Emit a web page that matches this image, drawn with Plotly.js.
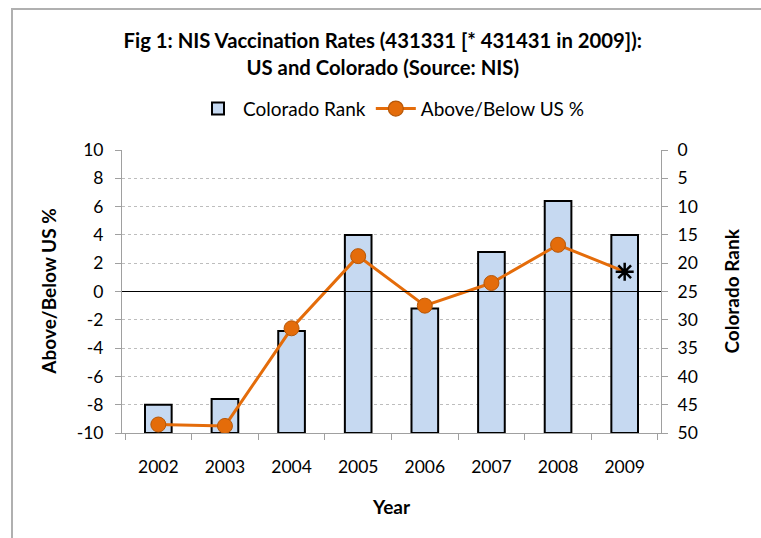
<!DOCTYPE html>
<html>
<head>
<meta charset="utf-8">
<script src="https://cdn.plot.ly/plotly-3.0.1.min.js"></script>
<style>
  html, body { margin: 0; padding: 0; background: #fff; }
  #wrap { position: relative; width: 761px; height: 538px; }
  #chart { width: 761px; height: 538px; }
  #frame { position: absolute; left: 11px; top: 8px; right: -4px; bottom: -4px;
           border-top: 2px solid #b0b0b0; border-left: 2px solid #b0b0b0; pointer-events: none; }
</style>
</head>
<body>
<div id="wrap">
  <div id="chart"></div>
  <div id="frame"></div>
</div>
<script>
const years = ["2002", "2003", "2004", "2005", "2006", "2007", "2008", "2009"];
const coloradoRank = [45, 44, 32, 15, 28, 18, 9, 15];
const aboveBelowUS = [-9.4, -9.5, -2.6, 2.5, -1.0, 0.6, 3.3, 1.4];
const rankTicks = [0, 5, 10, 15, 20, 25, 30, 35, 40, 45, 50];
const pctTicks = [-10, -8, -6, -4, -2, 0, 2, 4, 6, 8, 10];
const pctTickLabels = ["-10", "-8", "-6", "-4", "-2", "0", "2", "4", "6", "8", "10"];
const rankAxisBottom = 50;

const FONT = "Lato, 'Open Sans', sans-serif";
const orange = "#E46C0A";

// Bars use the (right-hand) rank axis "y"; the line is on the overlaying left axis "y2" so it draws on top.
const barTrace = {
  type: "bar",
  name: "Colorado Rank",
  x: years,
  y: coloradoRank.map(r => r - rankAxisBottom),
  base: rankAxisBottom,
  yaxis: "y",
  width: 0.4,
  marker: { color: "#C6D9F1", line: { color: "#000000", width: 2 } },
  hoverinfo: "skip"
};

const lastIdx = years.length - 1;
const lineTrace = {
  type: "scatter",
  mode: "lines+markers",
  name: "Above/Below US %",
  x: years,
  y: aboveBelowUS,
  yaxis: "y2",
  line: { color: orange, width: 3 },
  marker: {
    symbol: years.map((_, i) => i === lastIdx ? "asterisk-open" : "circle"),
    size: 15,
    opacity: 1,
    color: years.map((_, i) => i === lastIdx ? "#000000" : orange),
    line: { color: years.map((_, i) => i === lastIdx ? "#000000" : "#B65708"),
            width: years.map((_, i) => i === lastIdx ? 2.5 : 1) }
  }
};

const axisTitleFont = { family: FONT, size: 19, color: "#000000" };

const layout = {
  width: 761,
  height: 538,
  margin: { l: 122, r: 100, t: 150, b: 105 },
  paper_bgcolor: "#ffffff",
  plot_bgcolor: "#ffffff",
  font: { family: FONT, size: 17.5, color: "#000000" },
  title: {
    text: "<b>Fig 1: NIS Vaccination Rates (431331 [* 431431 in 2009]):</b><br><b>US and Colorado (Source: NIS)</b>",
    font: { family: FONT, size: 20.3, color: "#000000" },
    x: 0.503, xref: "container", xanchor: "center",
    y: 0.91, yref: "container", yanchor: "middle"
  },
  showlegend: true,
  legend: {
    orientation: "h",
    x: 0.5, xanchor: "center",
    y: 1.146, yanchor: "middle",
    font: { family: FONT, size: 19 },
    traceorder: "normal",
    itemwidth: 40,
    bgcolor: "rgba(0,0,0,0)"
  },
  xaxis: {
    type: "category",
    showline: true, linecolor: "#a0a0a0", linewidth: 1,
    ticks: "outside", tickson: "boundaries", ticklen: 6, tickcolor: "#a0a0a0",
    ticklabelstandoff: 18,
    showgrid: false,
    tickfont: { family: FONT, size: 17.5 },
    automargin: false
  },
  yaxis: {
    side: "right",
    range: [50, 0],
    tickmode: "array", tickvals: rankTicks,
    showline: true, linecolor: "#a0a0a0", linewidth: 1,
    ticks: "outside", ticklen: 6, tickcolor: "#a0a0a0",
    ticklabelstandoff: 6,
    showgrid: true, gridcolor: "#bdbdbd", griddash: "dot", gridwidth: 1,
    zeroline: false,
    tickfont: { family: FONT, size: 17.5 },
    automargin: false
  },
  yaxis2: {
    overlaying: "y",
    side: "left",
    range: [-10, 10],
    tickmode: "array", tickvals: pctTicks, ticktext: pctTickLabels,
    showline: true, linecolor: "#a0a0a0", linewidth: 1,
    ticks: "outside", ticklen: 6, tickcolor: "#a0a0a0",
    ticklabelstandoff: 8,
    showgrid: false,
    zeroline: true, zerolinecolor: "#000000", zerolinewidth: 1.5,
    zerolinelayer: "above traces",
    tickfont: { family: FONT, size: 17.5 },
    automargin: false
  },
  annotations: [
    { text: "<b>Above/Below US %</b>", xref: "paper", yref: "paper", x: -0.137, y: 0.5,
      xanchor: "center", yanchor: "middle", textangle: -90, showarrow: false, font: axisTitleFont },
    { text: "<b>Colorado Rank</b>", xref: "paper", yref: "paper", x: 1.130, y: 0.5,
      xanchor: "center", yanchor: "middle", textangle: -90, showarrow: false, font: axisTitleFont },
    { text: "<b>Year</b>", xref: "paper", yref: "paper", x: 0.5, y: -0.258,
      xanchor: "center", yanchor: "middle", showarrow: false, font: axisTitleFont }
  ],
  bargap: 0.6
};

Plotly.newPlot("chart", [barTrace, lineTrace], layout, { displayModeBar: false, staticPlot: true });
</script>
</body>
</html>
